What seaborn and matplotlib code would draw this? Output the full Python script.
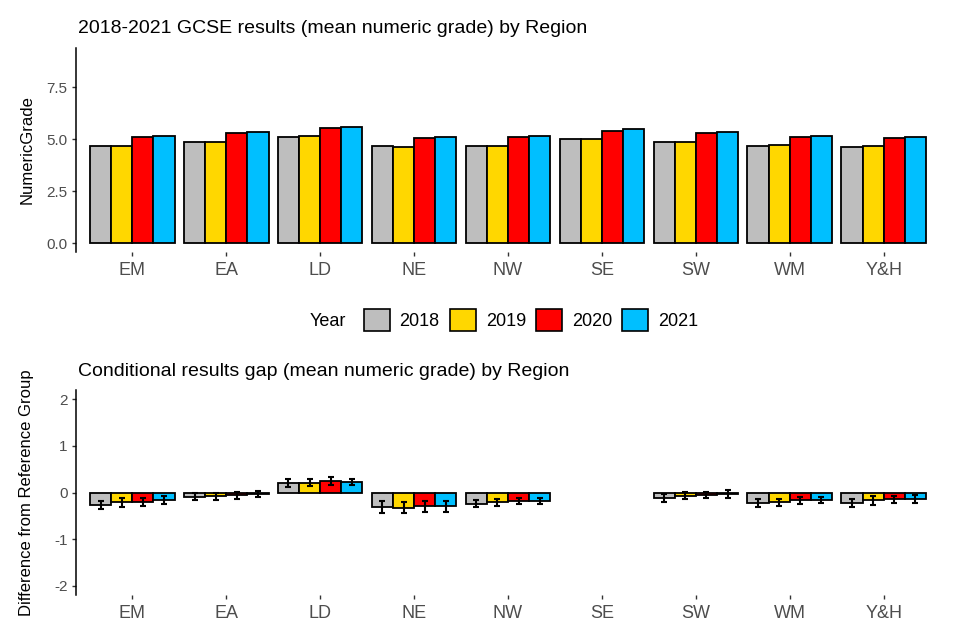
import numpy as np
import pandas as pd
import matplotlib
matplotlib.use("Agg")
import matplotlib.pyplot as plt
import seaborn as sns

regions = ["EM", "EA", "LD", "NE", "NW", "SE", "SW", "WM", "Y&H"]
years = ["2018", "2019", "2020", "2021"]
colors = ["#BEBEBE", "#FFD700", "#FF0000", "#00BFFF"]

grade_2018 = [4.69, 4.87, 5.09, 4.68, 4.69, 5.01, 4.87, 4.66, 4.63]
grade_2019 = [4.69, 4.87, 5.14, 4.63, 4.69, 5.01, 4.87, 4.71, 4.68]
grade_2020 = [5.09, 5.29, 5.54, 5.06, 5.11, 5.41, 5.29, 5.11, 5.06]
grade_2021 = [5.14, 5.35, 5.61, 5.11, 5.16, 5.49, 5.37, 5.16, 5.11]

gap_2018 = [-0.27, -0.09, 0.20, -0.31, -0.24, np.nan, -0.115, -0.23, -0.22]
gap_2019 = [-0.21, -0.08, 0.21, -0.33, -0.21, np.nan, -0.065, -0.21, -0.17]
gap_2020 = [-0.20, -0.06, 0.25, -0.30, -0.18, np.nan, -0.055, -0.17, -0.15]
gap_2021 = [-0.165, -0.03, 0.23, -0.30, -0.18, np.nan, -0.03, -0.16, -0.14]

err_2018 = [0.09, 0.08, 0.08, 0.12, 0.08, np.nan, 0.09, 0.09, 0.09]
err_2019 = [0.10, 0.08, 0.08, 0.12, 0.08, np.nan, 0.08, 0.08, 0.09]
err_2020 = [0.09, 0.07, 0.08, 0.11, 0.07, np.nan, 0.07, 0.08, 0.08]
err_2021 = [0.085, 0.07, 0.07, 0.11, 0.07, np.nan, 0.08, 0.07, 0.08]

grades = [grade_2018, grade_2019, grade_2020, grade_2021]
gaps = [gap_2018, gap_2019, gap_2020, gap_2021]
errs = [err_2018, err_2019, err_2020, err_2021]

rows_top = []
rows_bot = []
for y, g, d, e in zip(years, grades, gaps, errs):
    for r, gv, dv, ev in zip(regions, g, d, e):
        rows_top.append({"Region": r, "Year": y, "NumericGrade": gv})
        rows_bot.append({"Region": r, "Year": y, "Gap": dv, "Err": ev})
df_top = pd.DataFrame(rows_top)
df_bot = pd.DataFrame(rows_bot)

sns.set_style("white")
plt.rcParams["font.family"] = ["Liberation Sans", "DejaVu Sans"]
plt.rcParams["text.color"] = "black"
plt.rcParams["axes.labelcolor"] = "black"

palette = dict(zip(years, colors))
tick_col = "#4D4D4D"

fig = plt.figure(figsize=(9.6, 6.4), dpi=100)
ax1 = fig.add_axes([76 / 960, 1 - 252 / 640, 864 / 960, 204 / 640])
ax2 = fig.add_axes([76 / 960, 1 - 595 / 640, 864 / 960, 205 / 640])

bar_kw = dict(edgecolor="black", linewidth=1.3, width=0.9, saturation=1, errorbar=None)

sns.barplot(data=df_top, x="Region", y="NumericGrade", hue="Year", order=regions,
            hue_order=years, palette=palette, ax=ax1, **bar_kw)
sns.barplot(data=df_bot.dropna(), x="Region", y="Gap", hue="Year", order=regions,
            hue_order=years, palette=palette, ax=ax2, legend=False, **bar_kw)

# error bars on the gap bars
bar_containers = list(ax2.containers)
for j, cont in enumerate(bar_containers):
    yr = years[j]
    for rect in cont:
        xc = rect.get_x() + rect.get_width() / 2
        idx = int(round(xc))
        row = df_bot[(df_bot.Region == regions[idx]) & (df_bot.Year == yr)].iloc[0]
        ax2.errorbar(xc, row.Gap, yerr=row.Err, fmt="none", ecolor="black",
                     elinewidth=1.5, capsize=2.2, capthick=1.5, zorder=5)

# legend
leg = ax1.get_legend()
handles = leg.legend_handles
labels = [t.get_text() for t in leg.get_texts()]
leg.remove()
for h in handles:
    h.set_edgecolor("black")
    h.set_linewidth(1.2)
fig.legend(handles, labels, loc="center", bbox_to_anchor=(531 / 960, 1 - 320 / 640),
           ncol=4, frameon=False, fontsize=13, handlelength=1.45, handleheight=1.45,
           handletextpad=0.55, columnspacing=0.55, borderpad=0, labelcolor="black")
fig.text(310 / 960, 1 - 320 / 640, "Year", fontsize=13, ha="left",
         va="center_baseline", color="black")

for ax in (ax1, ax2):
    sns.despine(ax=ax, top=True, right=True, bottom=True, left=False)
    ax.spines["left"].set_linewidth(1.1)
    ax.spines["left"].set_color("black")
    ax.set_xlim(-0.6, 8.6)
    ax.set_xlabel("")
    ax.tick_params(axis="x", bottom=True, length=3, width=1, color="#333333",
                   labelsize=13, labelcolor=tick_col, pad=4)
    ax.tick_params(axis="y", left=True, length=3, width=1, color="#333333",
                   labelsize=11, labelcolor=tick_col, pad=3)

ax1.set_ylim(-0.43, 9.39)
ax1.set_yticks([0, 2.5, 5.0, 7.5])
ax1.set_yticklabels(["0.0", "2.5", "5.0", "7.5"])
ax2.set_ylim(-2.2, 2.2)
ax2.set_yticks([-2, -1, 0, 1, 2])
ax2.set_yticklabels(["-2", "-1", "0", "1", "2"])

ax1.set_ylabel("NumericGrade", fontsize=12, color="black")
ax2.set_ylabel("Difference from Reference Group", fontsize=12, color="black")
for ax in (ax1, ax2):
    ax.yaxis.label.set_va("center")
    ax.yaxis.set_label_coords((27 - 76) / 864, 0.5)

fig.text(78 / 960, 1 - 33 / 640, "2018-2021 GCSE results (mean numeric grade) by Region",
         fontsize=14, ha="left", va="baseline", color="black")
fig.text(78 / 960, 1 - 376 / 640, "Conditional results gap (mean numeric grade) by Region",
         fontsize=14, ha="left", va="baseline", color="black")

fig.savefig("out.png", dpi=100)
